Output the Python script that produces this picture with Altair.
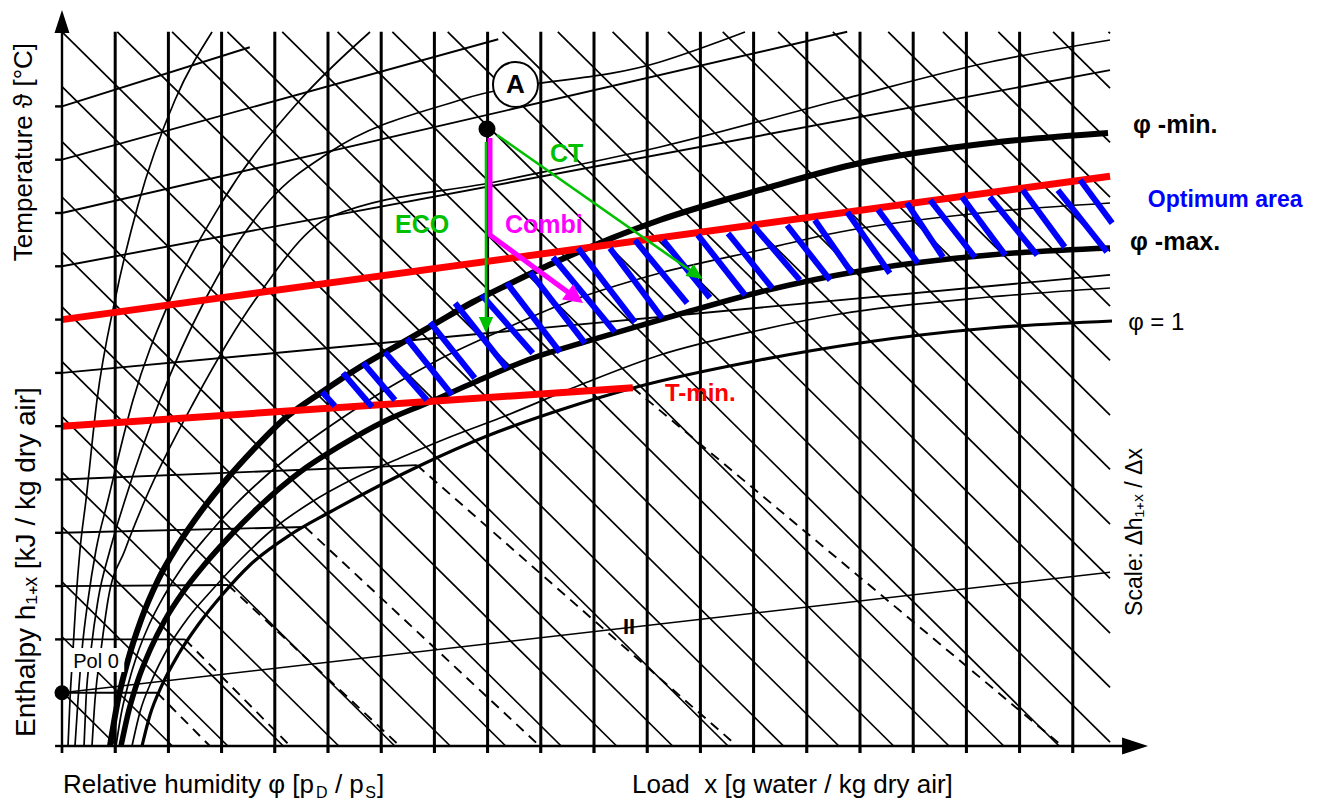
import altair as alt
import pandas as pd

# ---------------- data (chart units: x = load grid step, y = temperature tick step) -------------
X_GRID = list(range(1, 20))          # vertical lines of constant load x
X_TICKS = list(range(0, 20))
Y_TICKS = list(range(0, 13))
X_END = 19.70                         # right end of the grid
Y_END = 13.40                         # top end of the grid

# isenthalps (45 deg lines): intercepts on the left axis and on the top edge
DIAG_LEFT_Y = [13.40, 12.37, 11.34, 10.30, 9.27, 8.24, 7.21, 6.18, 5.14, 4.11, 3.08, 2.05, 1.02]
DIAG_TOP_X = [1.04, 2.07, 3.11, 4.14, 5.18, 6.21, 7.25, 8.28, 9.32, 10.35, 11.39, 12.42,
              13.46, 14.49, 15.53, 16.56, 17.60, 18.63, 19.67]
DIAG_SLOPE = -0.988

# isotherms starting on the temperature axis
ISO_START = [1, 2, 3, 4, 5, 7, 9, 10, 11, 12]
ISO_END_X = [1.786, 2.31, 3.12, 4.568, 6.67, 19.70, 19.70, 14.76, 8.20, 3.53]
ISO_END_Y = [1.00, 2.00, 3.02, 4.109, 5.27, 8.84, 12.68, 13.40, 13.26, 13.11]

# red limits: T-min and T-max
RED_START = [6, 8]
RED_END_X = [10.73, 19.70]
RED_END_Y = [6.72, 10.69]

# fog isotherms (dashed)
FOG_X1 = [1.786, 2.31, 3.12, 4.568, 6.67, 10.73]
FOG_Y1 = [1.00, 2.00, 3.02, 4.109, 5.27, 6.72]
FOG_X2 = [2.78, 4.29, 6.35, 8.98, 12.69, 18.80]

# pole line
POL_X = [0.0, 19.70]
POL_Y = [1.00, 3.26]

# relative humidity curves
PHI_MIN_X = [0.902, 1.053, 1.241, 1.485, 1.805, 2.180, 2.632, 3.083, 3.590, 4.154, 4.887, 5.602,
             6.316, 6.974, 7.726, 8.365, 9.361, 11.241, 13.120, 15.0, 17.444, 19.662]
PHI_MIN_Y = [0.0, 0.863, 1.614, 2.364, 3.114, 3.771, 4.428, 4.991, 5.553, 6.116, 6.642, 7.111,
             7.523, 7.899, 8.330, 8.649, 9.118, 9.869, 10.432, 10.938, 11.313, 11.501]
PHI_MAX_X = [1.109, 1.259, 1.429, 1.654, 1.936, 2.274, 2.688, 3.158, 3.759, 4.474, 5.226, 6.071,
             6.917, 7.763, 8.853, 9.831, 10.771, 11.617, 13.120, 15.0, 17.444, 19.699]
PHI_MAX_Y = [0.0, 0.675, 1.238, 1.801, 2.364, 2.889, 3.415, 3.940, 4.540, 5.141, 5.629, 6.098,
             6.454, 6.829, 7.280, 7.580, 7.861, 8.105, 8.518, 8.912, 9.212, 9.343]
PHI_ONE_X = [1.504, 1.654, 1.880, 2.180, 2.556, 3.008, 3.534, 4.286, 5.038, 6.673, 7.989, 9.361,
             10.733, 13.120, 15.0, 17.444, 19.737]
PHI_ONE_Y = [0.0, 0.582, 1.144, 1.707, 2.270, 2.833, 3.396, 3.959, 4.390, 5.235, 5.816, 6.304,
             6.717, 7.242, 7.561, 7.842, 7.974]
PHI_F_X = [1.015, 1.109, 1.241, 1.410, 1.635, 1.917, 2.274, 2.726, 3.252, 3.872, 4.568, 5.320,
           6.165, 7.105, 8.233, 9.361, 11.241, 13.120, 14.624, 17.444, 19.699]
PHI_F_Y = [0.0, 0.582, 1.144, 1.707, 2.270, 2.814, 3.377, 3.940, 4.522, 5.103, 5.666, 6.191,
           6.735, 7.261, 7.786, 8.274, 8.874, 9.306, 9.644, 10.019, 10.188]
PHI_G_X = [1.316, 1.466, 1.692, 1.992, 2.368, 2.820, 3.346, 3.947, 4.662, 5.508, 6.353, 7.293,
           8.233, 9.737, 11.241, 13.120, 14.624, 17.444, 19.699]
PHI_G_Y = [0.0, 0.638, 1.238, 1.839, 2.402, 2.927, 3.490, 4.053, 4.559, 5.028, 5.403, 5.797,
           6.154, 6.773, 7.336, 7.805, 8.105, 8.424, 8.593]
PHI_A_X = [0.113, 0.150, 0.207, 0.263, 0.338, 0.451, 0.658, 0.996, 1.429, 2.124, 2.820]
PHI_A_Y = [0.0, 0.863, 1.801, 2.739, 3.677, 4.615, 6.492, 8.368, 10.150, 12.120, 13.396]
PHI_B_X = [0.244, 0.301, 0.376, 0.489, 0.639, 0.865, 1.335, 2.030, 3.008, 4.474, 5.789]
PHI_B_Y = [0.0, 0.863, 1.801, 2.739, 3.677, 4.615, 6.492, 8.368, 10.206, 12.120, 13.396]
PHI_C_X = [0.414, 0.451, 0.545, 0.677, 0.902, 1.184, 1.842, 2.688, 3.910, 5.038, 7.481, 11.241, 12.838]
PHI_C_Y = [0.0, 0.863, 1.801, 2.739, 3.677, 4.615, 6.492, 8.368, 10.244, 11.144, 12.120, 12.833, 13.396]
PHI_D_X = [0.564, 0.620, 0.733, 0.865, 1.184, 1.560, 2.500, 3.628, 5.038, 8.233, 11.241, 14.624, 17.444, 19.699]
PHI_D_Y = [0.0, 0.863, 1.801, 2.739, 3.677, 4.615, 6.492, 8.368, 9.925, 10.600, 11.238, 12.120, 12.833, 13.246]

# optimum-area hatching (blue strokes)
HATCH_X1 = [4.89, 5.28, 5.66, 6.07, 6.48, 6.92, 7.39, 7.89, 8.36, 8.80, 9.23, 9.70, 10.30, 10.77,
            11.30, 11.95, 12.52, 12.99, 13.63, 14.15, 14.76, 15.34, 15.88, 16.32, 16.92, 17.44,
            18.06, 18.72, 19.14]
HATCH_Y1 = [6.64, 7.00, 7.19, 7.39, 7.65, 7.95, 8.31, 8.46, 8.69, 8.89, 9.17, 9.34, 9.34, 9.49,
            9.49, 9.59, 9.62, 9.77, 9.77, 9.87, 10.02, 10.06, 10.19, 10.24, 10.30, 10.30, 10.43,
            10.43, 10.62]
HATCH_X2 = [5.13, 5.83, 6.26, 6.86, 7.33, 7.76, 8.36, 8.85, 9.36, 9.83, 10.39, 10.77, 11.28, 11.75,
            12.18, 12.84, 13.35, 13.87, 14.44, 14.85, 15.56, 16.09, 16.56, 17.16, 17.73, 18.33,
            18.85, 19.64, 19.74]
HATCH_Y2 = [6.38, 6.36, 6.49, 6.49, 6.59, 6.90, 7.09, 7.37, 7.39, 7.56, 7.77, 7.95, 8.03, 8.31,
            8.41, 8.46, 8.59, 8.74, 8.74, 8.87, 8.87, 9.06, 9.17, 9.17, 9.21, 9.21, 9.36, 9.27, 9.81]

# process paths from state A
A_X, A_Y = 7.989, 11.576
ECO_X = [7.970, 7.970]
ECO_Y = [11.332, 8.030]
CT_X = [8.177, 11.920]
CT_Y = [11.463, 8.846]
COMBI_X = [8.045, 8.045, 9.643]
COMBI_Y = [11.407, 9.587, 8.417]

# ---------------- scales ----------------
XS = alt.Scale(domain=[-1.0150, 23.4774], nice=False, zero=False)
YS = alt.Scale(domain=[-1.0131, 13.8462], nice=False, zero=False)
FONT = "Liberation Sans"


def xe(f="x"):
    return alt.X(f + ":Q", scale=XS, axis=None)


def ye(f="y"):
    return alt.Y(f + ":Q", scale=YS, axis=None)


def segs(df, color, width, dash=None, cap="butt"):
    kw = dict(color=color, strokeWidth=width, strokeCap=cap)
    if dash is not None:
        kw["strokeDash"] = dash
    return alt.Chart(df).mark_rule(**kw).encode(x=xe(), y=ye(), x2="x2:Q", y2="y2:Q")


def curve(xs, ys, width, color="black", interp="monotone"):
    df = pd.DataFrame({"x": xs, "y": ys, "i": list(range(len(xs)))})
    return alt.Chart(df).mark_line(color=color, strokeWidth=width, interpolate=interp,
                                   strokeCap="butt", strokeJoin="round").encode(
        x=xe(), y=ye(), order="i:Q")


def text(rows, **kw):
    df = pd.DataFrame(rows, columns=["x", "y", "t"])
    base = dict(font=FONT)
    base.update(kw)
    return alt.Chart(df).mark_text(**base).encode(x=xe(), y=ye(), text="t:N")


def point(xs, ys, **kw):
    df = pd.DataFrame({"x": xs, "y": ys})
    base = dict(opacity=1)
    base.update(kw)
    return alt.Chart(df).mark_point(**base).encode(x=xe(), y=ye())


# ---------------- build segment tables ----------------
diag_rows = []
for y0 in DIAG_LEFT_Y:
    x2 = min(y0 / -DIAG_SLOPE, X_END)
    diag_rows.append((0.0, y0, x2, y0 + DIAG_SLOPE * x2))
for x0 in DIAG_TOP_X:
    x2 = min(x0 + Y_END / -DIAG_SLOPE, X_END)
    diag_rows.append((x0, Y_END, x2, Y_END + DIAG_SLOPE * (x2 - x0)))
diag = pd.DataFrame(diag_rows, columns=["x", "y", "x2", "y2"])

verts = pd.DataFrame({"x": X_GRID, "y": [-0.13] * len(X_GRID), "x2": X_GRID, "y2": [Y_END] * len(X_GRID)})
iso = pd.DataFrame({"x": [0.0] * len(ISO_START), "y": ISO_START, "x2": ISO_END_X, "y2": ISO_END_Y})
red = pd.DataFrame({"x": [0.0] * len(RED_START), "y": RED_START, "x2": RED_END_X, "y2": RED_END_Y})
fog = pd.DataFrame({"x": FOG_X1, "y": FOG_Y1, "x2": FOG_X2, "y2": [0.0] * len(FOG_X2)})
pol = pd.DataFrame({"x": [POL_X[0]], "y": [POL_Y[0]], "x2": [POL_X[1]], "y2": [POL_Y[1]]})
hatch = pd.DataFrame({"x": HATCH_X1, "y": HATCH_Y1, "x2": HATCH_X2, "y2": HATCH_Y2})
axes = pd.DataFrame({"x": [0.0, 0.0], "y": [-0.13, 0.0], "x2": [0.0, 19.95], "y2": [13.45, 0.0]})
lticks = pd.DataFrame({"x": [-0.13] * len(Y_TICKS), "y": Y_TICKS, "x2": [0.0] * len(Y_TICKS), "y2": Y_TICKS})
bticks = pd.DataFrame({"x": X_TICKS, "y": [-0.13] * len(X_TICKS), "x2": X_TICKS, "y2": [0.0] * len(X_TICKS)})
eco = pd.DataFrame({"x": [ECO_X[0]], "y": [ECO_Y[0]], "x2": [ECO_X[1]], "y2": [ECO_Y[1]]})
ct = pd.DataFrame({"x": [CT_X[0]], "y": [CT_Y[0]], "x2": [CT_X[1]], "y2": [CT_Y[1]]})
polbox = pd.DataFrame({"x": [0.15], "y": [1.39], "x2": [1.17], "y2": [1.84]})

GREEN = "#00c000"
MAGENTA = "#ff00ff"
BLUE = "#0000ff"
RED = "#ff0000"

layers = [
    segs(diag, "black", 1.7),
    segs(iso, "black", 1.9),
    segs(fog, "black", 1.9, dash=[10, 7]),
    segs(pol, "black", 1.5),
    curve(PHI_A_X, PHI_A_Y, 1.7),
    curve(PHI_B_X, PHI_B_Y, 1.7),
    curve(PHI_C_X, PHI_C_Y, 1.7),
    curve(PHI_D_X, PHI_D_Y, 1.7),
    curve(PHI_F_X, PHI_F_Y, 1.7),
    curve(PHI_G_X, PHI_G_Y, 1.7),
    segs(verts, "black", 3.0),
    curve(PHI_ONE_X, PHI_ONE_Y, 3.2),
    curve(PHI_MAX_X, PHI_MAX_Y, 5.5),
    curve(PHI_MIN_X, PHI_MIN_Y, 6.0),
    segs(red, RED, 7.0),
    segs(hatch, BLUE, 6.0),
    segs(axes, "black", 2.4),
    segs(lticks, "black", 2.4),
    segs(bticks, "black", 2.4),
    # arrow heads of the axes
    point([0.0], [13.593], shape="M0,-1L0.65,1L-0.65,1Z", size=529, filled=True, color="black"),
    point([20.17], [0.0], shape="M1,0L-1,-0.65L-1,0.65Z", size=676, filled=True, color="black"),
    # process lines
    segs(eco, GREEN, 2.6),
    point([7.970], [7.900], shape="M0,1L0.9,-1L-0.9,-1Z", size=256, filled=True, color=GREEN),
    segs(ct, GREEN, 2.6),
    point([11.920], [8.846], shape="M1,0L-1,-0.9L-1,0.9Z", size=256, filled=True, color=GREEN, angle=34.5),
    curve(COMBI_X, COMBI_Y, 5.0, color=MAGENTA, interp="linear"),
    point([9.649], [8.417], shape="M1,0L-1,-1L-1,1Z", size=361, filled=True, color=MAGENTA, angle=36.2),
    point([A_X], [A_Y], shape="circle", size=289, filled=True, color="black"),
    point([8.524], [12.411], shape="circle", size=2025, filled=True, fill="white", stroke="black", strokeWidth=2),
    text([(8.524, 12.411, "A")], fontSize=26, fontWeight="bold", align="center", baseline="middle", dy=1),
    # pole
    alt.Chart(polbox).mark_rect(color="white").encode(x=xe(), y=ye(), x2="x2:Q", y2="y2:Q"),
    text([(0.639, 1.463, "Pol 0")], fontSize=20, align="center", baseline="alphabetic"),
    point([0.0], [1.0], shape="circle", size=225, filled=True, color="black"),
    text([(10.66, 2.23, "II")], fontSize=22, fontWeight="bold", align="center", baseline="middle"),
    # labels in the field
    text([(6.259, 9.625, "ECO"), (9.173, 10.957, "CT")], fontSize=25, fontWeight="bold",
         color=GREEN, align="left", baseline="alphabetic"),
    text([(8.327, 9.625, "Combi")], fontSize=25, fontWeight="bold", color=MAGENTA,
         align="left", baseline="alphabetic"),
    text([(11.335, 6.473, "T-min.")], fontSize=24, fontWeight="bold", color=RED,
         align="left", baseline="alphabetic"),
    text([(20.132, 11.507, "φ -min."), (20.075, 9.306, "φ -max.")], fontSize=25, fontWeight="bold",
         align="left", baseline="alphabetic"),
    text([(20.04, 7.805, "φ = 1")], fontSize=24, align="left", baseline="alphabetic"),
    text([(20.41, 10.118, "Optimum area")], fontSize=23, fontWeight="bold", color=BLUE,
         align="left", baseline="alphabetic"),
    # axis titles
    text([(-0.573, 11.144, "Temperature ϑ [°C]")], fontSize=26, angle=270, align="center",
         baseline="alphabetic"),
    text([(-0.508, 3.452, "Enthalpy h₁₊ₓ [kJ / kg dry air]")], fontSize=28, angle=270,
         align="center", baseline="alphabetic"),
    text([(20.30, 4.015, "Scale: Δh₁₊ₓ / Δx")], fontSize=23, angle=270, align="center",
         baseline="alphabetic"),
    text([(0.02, -0.882, "Relative humidity φ [p"), (5.13, -0.882, "/ p"), (5.92, -0.882, "]"),
          (10.714, -0.882, "Load\u00a0 x [g water / kg dry air]")],
         fontSize=26, align="left", baseline="alphabetic"),
    text([(4.774, -0.976, "D"), (5.70, -0.976, "S")], fontSize=16, align="left", baseline="alphabetic"),
]

chart = alt.layer(*layers).properties(
    width=1303, height=792, padding=0,
    autosize=alt.AutoSizeParams(type="none"),
    background="white",
).configure_view(strokeWidth=0)

chart.save("out.html", embed_options={"renderer": "svg", "actions": False})
